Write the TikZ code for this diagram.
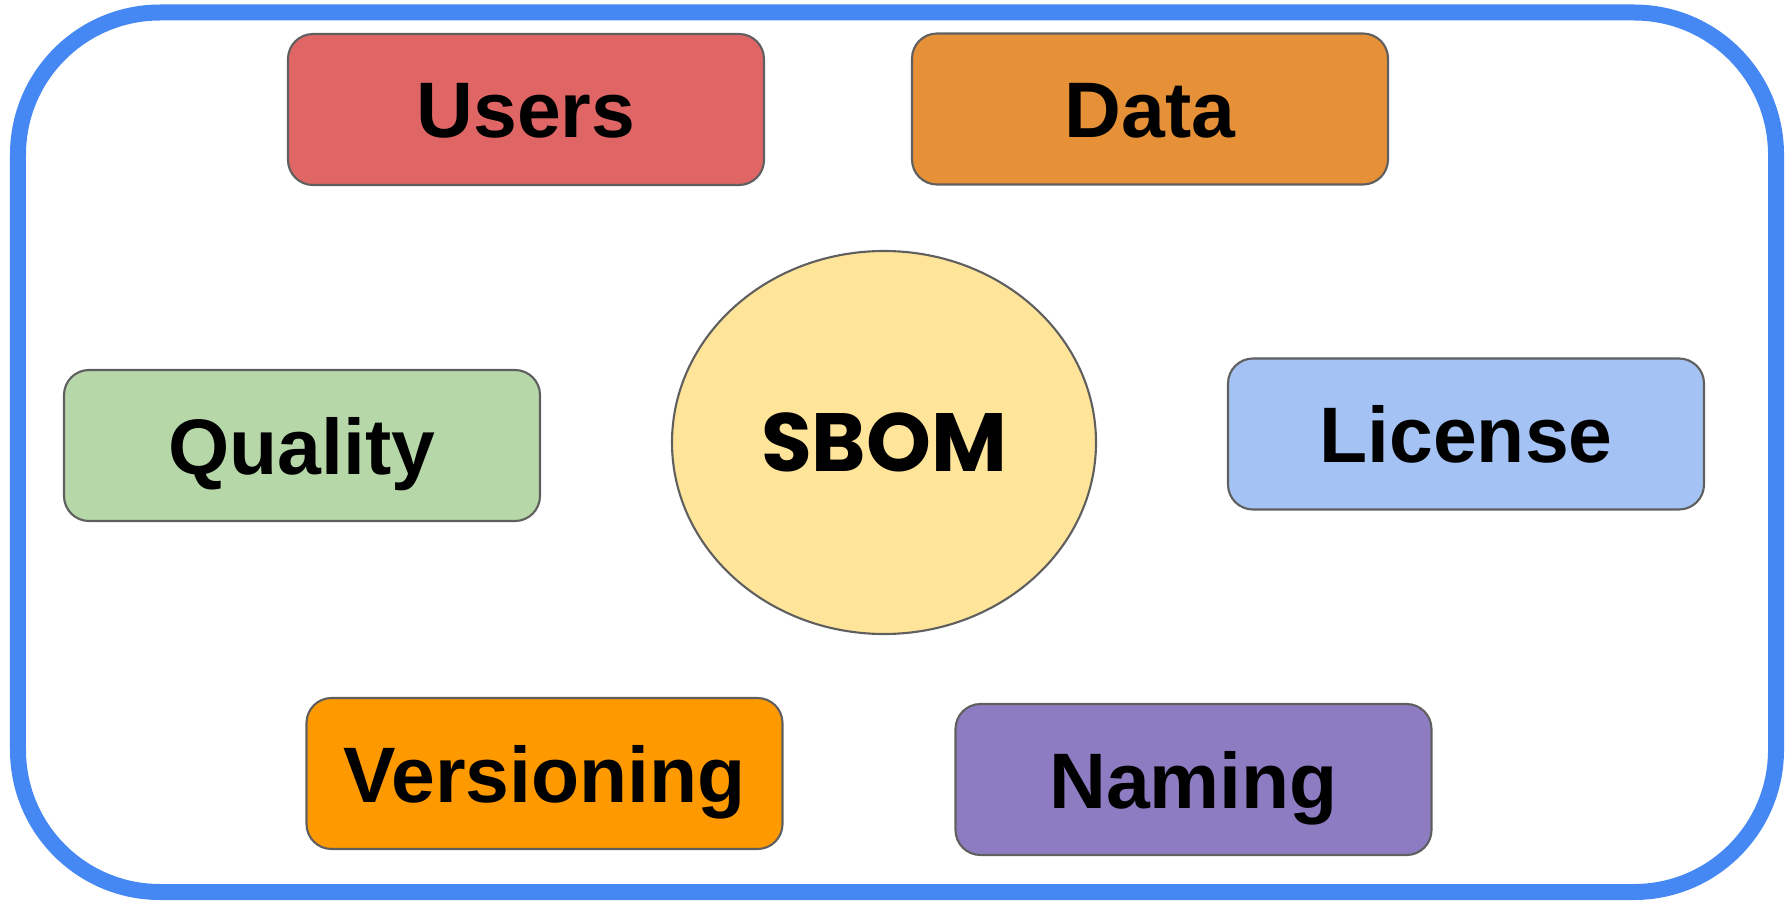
\documentclass[tikz,border=0pt]{standalone}
\usepackage{fontspec}
\usepackage{tikz}
\usetikzlibrary{shapes.geometric}
\setmainfont{Liberation Sans}
\newfontfamily\sbomfont{Poppins}
\definecolor{frameblue}{HTML}{4588F4}
\definecolor{edgegrey}{HTML}{5F5F5F}
\definecolor{usersred}{HTML}{E06666}
\definecolor{dataorange}{HTML}{E69138}
\definecolor{qualitygreen}{HTML}{B6D7A8}
\definecolor{licenseblue}{HTML}{A4C2F4}
\definecolor{versionorange}{HTML}{FF9900}
\definecolor{namingpurple}{HTML}{8E7CC3}
\definecolor{sbomyellow}{HTML}{FFE599}
\tikzset{%
    inner sep=0pt,%
    outer sep=0pt,%
    topic/.style={draw=edgegrey, line width=0.6pt, rounded corners=0.25cm,
    minimum width=4.76cm, minimum height=1.51cm,
    text height=0.57cm, text depth=0pt,
    font=\fontsize{22.4}{26}\selectfont\bfseries},%
    core/.style={ellipse, draw=edgegrey, line width=0.6pt, fill=sbomyellow,
    minimum width=4.24cm, minimum height=3.83cm,
    font=\sbomfont\fontsize{23.5}{28}\selectfont\bfseries}%
    }

\begin{document}
\begin{tikzpicture}
    \useasboundingbox (0,0) rectangle (17.85,9);
    % frame
    \draw[frameblue, line width=0.16cm, rounded corners=1.42cm]
        (0.18,0.08) rectangle (17.76,8.875);

    \node[core] (sbom) at (8.84,4.575) {SBOM};

    \node[topic, fill=usersred] (users) at (5.26,7.905) {Users};
    \node[topic, fill=dataorange] (data) at (11.50,7.91) {Data};
    \node[topic, fill=qualitygreen] (quality) at (3.02,4.545) {Quality};
    \node[topic, fill=licenseblue] (license) at (14.66,4.66) {License};
    \node[topic, fill=versionorange] (versioning) at (5.445,1.265) {Versioning};
    \node[topic, fill=namingpurple] (naming) at (11.935,1.205) {Naming};
\end{tikzpicture}
\end{document}
